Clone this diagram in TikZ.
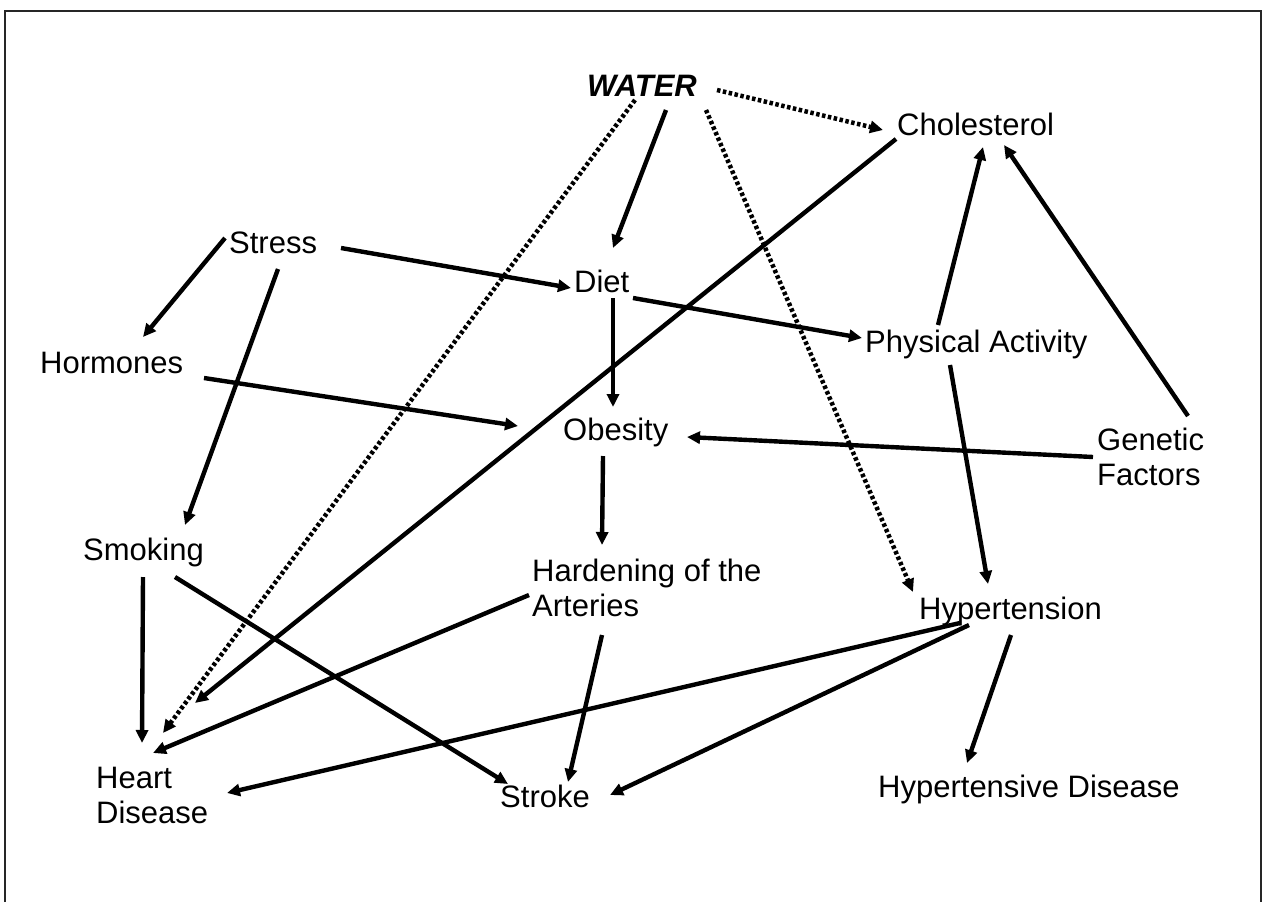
\documentclass[tikz,border=0pt]{standalone}
\usepackage{fontspec}
\setmainfont{Liberation Sans}
\usetikzlibrary{arrows.meta,calc}

\newcommand{\twoLine}[2]{\begin{tabular}[t]{@{}l@{}}#1\\#2\end{tabular}}

\begin{document}
\begin{tikzpicture}
[x=1pt,y=-1pt,
  nodeText/.style={anchor=base west,inner sep=0pt,font=\fontsize{31}{35}\selectfont},
  lineArrow/.style={-{Triangle[length=13pt,width=12pt]},line width=4.4pt},
  lineDotted/.style={lineArrow,line width=4.5pt,dash pattern=on 3.5pt off 2.5pt}]
\useasboundingbox (0,0) rectangle (1263,902);
%% frame
\draw[line width=2pt,black!85] (5,902) -- (5,11) -- (1261,11) -- (1261,902);
%% nodes
\node (water) at (587,96) [nodeText,font=\fontsize{31}{35}\selectfont\bfseries\itshape] {WATER};
\foreach \nodename/\x/\y/\txt in {
  chol/897/135/Cholesterol, stress/229/253/Stress, diet/574/292/Diet,
  phys/865/352/Physical Activity, horm/40/373/Hormones, obes/563/440/Obesity,
  genet/1097/450/\twoLine{Genetic}{Factors}, smok/83/560/Smoking,
  hard/532/581/\twoLine{Hardening of the}{Arteries}, hyper/919/619/Hypertension,
  heart/96/788/\twoLine{Heart}{Disease}, stroke/500/807/Stroke,
  hypdis/878/797/Hypertensive Disease}
{
  \node (\nodename) at (\x,\y) [nodeText] {\txt};
}
%% dotted links from water
\foreach \a/\ax/\ay/\b/\bx/\by in {
  water/130/-6/chol/-14/-5, water/48/4/heart/67/-55, water/119/14/hyper/-6/-27}
{
  \draw[lineDotted] ($(\a.base west)+(\ax,\ay)$) -- ($(\b.base west)+(\bx,\by)$);
}
%% solid links
\foreach \a/\ax/\ay/\b/\bx/\by in {
  water/79/14/diet/39/-44, chol/-1/4/heart/99/-85,
  stress/-4/-15/horm/103/-36, stress/112/-5/diet/-3/-4, stress/49/16/smok/102/-35,
  diet/39/6/obes/50/-33, diet/59/6/phys/-3/-14, horm/164/5/obes/-45/-14,
  phys/73/-27/chol/86/12, phys/85/13/hyper/69/-35,
  genet/91/-34/chol/107/10, genet/-4/7/obes/124/-3,
  obes/40/16/hard/70/-36, smok/60/17/heart/46/-45, smok/92/17/stroke/8/-23,
  hard/-3/14/heart/57/-35, hard/70/54/stroke/68/-25,
  hyper/41/4/heart/131/5, hyper/50/6/stroke/110/-12, hyper/92/16/hypdis/89/-34}
{
  \draw[lineArrow] ($(\a.base west)+(\ax,\ay)$) -- ($(\b.base west)+(\bx,\by)$);
}
\end{tikzpicture}
\end{document}
